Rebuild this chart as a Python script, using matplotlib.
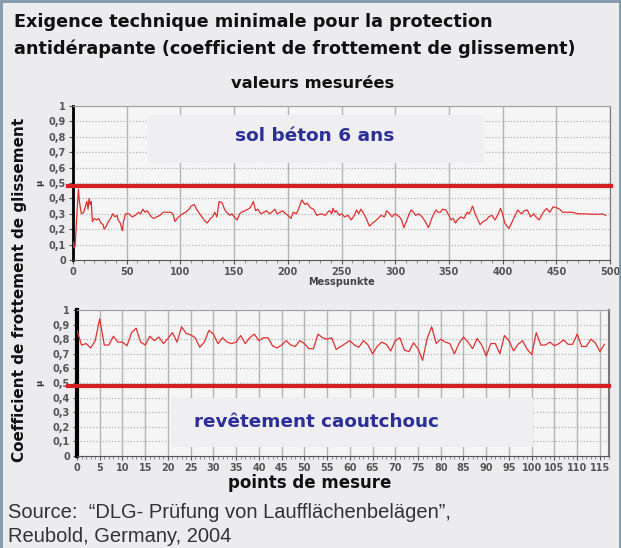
import matplotlib
matplotlib.use("Agg")
import matplotlib.pyplot as plt
from matplotlib.patches import Rectangle
from matplotlib.ticker import FuncFormatter, MultipleLocator

# sol béton 6 ans: friction coefficient vs. measuring point
beton_x = [0, 1, 2, 3, 5, 6, 7, 8, 10, 12, 13, 14, 15, 16, 17, 18, 20, 22, 24, 26,
           28, 29, 31, 33, 35, 37, 39, 41, 42, 44, 46, 47, 49, 52, 55, 58, 61, 63, 65, 67,
           69, 71, 73, 75, 78, 81, 84, 88, 91, 93, 95, 97, 100, 102, 105, 108, 110, 113, 115, 118,
           120, 122, 125, 128, 130, 132, 134, 136, 139, 141, 143, 146, 148, 150, 153, 155, 157, 160, 163, 165,
           168, 170, 172, 175, 178, 180, 183, 185, 188, 190, 193, 195, 198, 200, 203, 205, 208, 210, 213, 216,
           218, 221, 224, 227, 231, 235, 237, 239, 241, 242, 244, 245, 248, 250, 253, 256, 259, 262, 264, 266,
           268, 270, 273, 276, 279, 281, 284, 287, 290, 292, 295, 297, 300, 304, 306, 308, 311, 313, 315, 317,
           319, 322, 325, 328, 331, 334, 336, 338, 340, 342, 344, 347, 350, 352, 354, 356, 358, 361, 364, 367,
           369, 372, 375, 377, 379, 382, 385, 387, 390, 393, 396, 398, 400, 402, 404, 406, 409, 411, 414, 416,
           418, 420, 423, 426, 429, 431, 434, 437, 439, 441, 444, 447, 450, 453, 456, 460, 465, 470, 475, 480,
           485, 490, 493, 496]
beton_mu = [0.12, 0.08, 0.09, 0.22, 0.46, 0.38, 0.33, 0.30, 0.31, 0.36, 0.38, 0.33, 0.40, 0.36, 0.38, 0.25, 0.27, 0.26, 0.27, 0.24,
            0.23, 0.20, 0.22, 0.25, 0.27, 0.30, 0.28, 0.29, 0.26, 0.24, 0.19, 0.25, 0.30, 0.30, 0.28, 0.29, 0.31, 0.30, 0.33, 0.31,
            0.32, 0.30, 0.28, 0.27, 0.28, 0.29, 0.31, 0.31, 0.31, 0.30, 0.25, 0.27, 0.29, 0.30, 0.31, 0.33, 0.35, 0.36, 0.33, 0.30,
            0.28, 0.26, 0.24, 0.27, 0.28, 0.31, 0.28, 0.38, 0.37, 0.33, 0.31, 0.29, 0.30, 0.28, 0.26, 0.30, 0.31, 0.32, 0.33, 0.34,
            0.38, 0.32, 0.33, 0.30, 0.31, 0.32, 0.30, 0.31, 0.33, 0.30, 0.31, 0.32, 0.30, 0.29, 0.27, 0.31, 0.30, 0.33, 0.39, 0.36,
            0.37, 0.34, 0.33, 0.29, 0.30, 0.29, 0.31, 0.32, 0.30, 0.335, 0.31, 0.32, 0.29, 0.30, 0.28, 0.29, 0.26, 0.29, 0.325, 0.30,
            0.33, 0.31, 0.27, 0.22, 0.24, 0.25, 0.27, 0.29, 0.28, 0.32, 0.30, 0.28, 0.30, 0.28, 0.26, 0.21, 0.26, 0.30, 0.325, 0.31,
            0.29, 0.30, 0.28, 0.25, 0.21, 0.27, 0.30, 0.325, 0.31, 0.31, 0.33, 0.325, 0.29, 0.26, 0.27, 0.24, 0.26, 0.28, 0.27, 0.31,
            0.30, 0.35, 0.29, 0.26, 0.23, 0.25, 0.26, 0.28, 0.29, 0.26, 0.30, 0.335, 0.30, 0.24, 0.22, 0.205, 0.25, 0.28, 0.325, 0.31,
            0.30, 0.32, 0.325, 0.28, 0.30, 0.28, 0.26, 0.30, 0.32, 0.335, 0.31, 0.345, 0.34, 0.33, 0.31, 0.31, 0.31, 0.30, 0.30, 0.298,
            0.297, 0.297, 0.30, 0.29]

# revêtement caoutchouc
caout_x = list(range(0, 117))
caout_mu = [0.86, 0.76, 0.77, 0.74, 0.79, 0.94, 0.76, 0.76, 0.82, 0.78, 0.78, 0.755, 0.845, 0.875, 0.78, 0.76, 0.82, 0.79, 0.815, 0.77,
            0.805, 0.845, 0.78, 0.885, 0.84, 0.83, 0.81, 0.745, 0.78, 0.86, 0.835, 0.77, 0.81, 0.78, 0.77, 0.78, 0.825, 0.77, 0.81, 0.835,
            0.79, 0.81, 0.81, 0.755, 0.74, 0.76, 0.79, 0.76, 0.75, 0.79, 0.77, 0.735, 0.735, 0.835, 0.81, 0.80, 0.81, 0.73, 0.75, 0.77,
            0.79, 0.76, 0.745, 0.79, 0.76, 0.70, 0.75, 0.78, 0.765, 0.72, 0.79, 0.81, 0.725, 0.715, 0.775, 0.735, 0.655, 0.805, 0.885, 0.77,
            0.80, 0.78, 0.77, 0.70, 0.77, 0.815, 0.78, 0.735, 0.805, 0.76, 0.685, 0.77, 0.77, 0.70, 0.825, 0.79, 0.72, 0.765, 0.79, 0.73,
            0.695, 0.845, 0.76, 0.76, 0.78, 0.755, 0.77, 0.795, 0.765, 0.765, 0.835, 0.75, 0.75, 0.80, 0.775, 0.715, 0.765]

minimum_mu = 0.48
beton_ticks = [0, 50, 100, 150, 200, 250, 300, 350, 400, 450, 500]
caout_ticks = list(range(0, 116, 5))

BG = "#ececee"
RED = "#d42020"
BLUE = "#2b2f96"


def comma(v, pos):
    if abs(v - round(v)) < 1e-9:
        return "%d" % round(v)
    return ("%.1f" % v).replace(".", ",")


def style_axes(ax, xticks, xminor):
    ax.set_facecolor("#f5f5f5")
    ax.set_ylim(0, 1)
    ax.set_xticks(xticks)
    ax.xaxis.set_minor_locator(MultipleLocator(xminor))
    ax.yaxis.set_major_locator(MultipleLocator(0.1))
    ax.yaxis.set_major_formatter(FuncFormatter(comma))
    ax.grid(axis="x", which="major", color="#b4b4b4", lw=1.0, ls="-")
    ax.grid(axis="y", which="major", color="#b4b4b4", lw=0.9, ls=(0, (1, 1.5)))
    ax.set_axisbelow(True)
    ax.tick_params(labelsize=7, colors="#555555", length=3, width=0.8, pad=2)
    ax.tick_params(which="minor", length=2, width=0.6, colors="#777777")
    for lab in ax.get_xticklabels() + ax.get_yticklabels():
        lab.set_fontweight("bold")
    ax.spines["top"].set_color("#a0a0a0")
    ax.spines["right"].set_color("#777777")
    ax.spines["bottom"].set_color("#555555")
    ax.spines["left"].set_color("black")


fig = plt.figure(figsize=(6.21, 5.48), dpi=100, facecolor=BG)

# ---- top: concrete floor ----
ax1 = fig.add_axes([73 / 621, 1 - 260 / 548, 537 / 621, 154 / 548])
style_axes(ax1, beton_ticks, 10)
ax1.set_xlim(0, 500)
ax1.spines["left"].set_linewidth(2)
ax1.add_patch(Rectangle((0.139, 0.63), 0.627, 0.31, transform=ax1.transAxes,
                        facecolor="#efeff1", edgecolor="none", zorder=1.5))
ax1.text(0.45, 0.805, "sol béton 6 ans", transform=ax1.transAxes, ha="center", va="center",
         fontsize=13.3, fontweight="bold", color=BLUE, zorder=3)
ax1.plot(beton_x, beton_mu, color="#e03030", lw=0.9, zorder=4)
ax1.plot([-5, 501], [minimum_mu, minimum_mu], color=RED, lw=3, clip_on=False, zorder=5)
ax1.set_xlabel("Messpunkte", fontsize=7, fontweight="bold", color="#444444", labelpad=0)
ax1.text(-0.062, 0.5, "μ", transform=ax1.transAxes, fontsize=6, fontweight="bold",
         rotation=90, ha="center", va="center", color="#333333")

# ---- bottom: rubber covering ----
ax2 = fig.add_axes([77 / 621, 1 - 456 / 548, 532 / 621, 146 / 548])
style_axes(ax2, caout_ticks, 1)
ax2.set_xlim(0, 117)
ax2.spines["left"].set_linewidth(3)
ax2.spines["right"].set_linewidth(1.5)
ax2.add_patch(Rectangle((0.176, 0.06), 0.682, 0.34, transform=ax2.transAxes,
                        facecolor="#efeff1", edgecolor="none", zorder=1.5))
ax2.text(0.45, 0.233, "revêtement caoutchouc", transform=ax2.transAxes, ha="center", va="center",
         fontsize=13.2, fontweight="bold", color=BLUE, zorder=3)
ax2.plot(caout_x, caout_mu, color="#e03030", lw=0.9, zorder=4)
ax2.plot([-2, 117], [minimum_mu, minimum_mu], color=RED, lw=3, clip_on=False, zorder=5)
ax2.text(-0.07, 0.5, "μ", transform=ax2.transAxes, fontsize=6, fontweight="bold",
         rotation=90, ha="center", va="center", color="#333333")

# ---- figure texts ----
fig.text(14 / 621, 1 - 22 / 548, "Exigence technique minimale pour la protection",
         fontsize=12.7, fontweight="bold", va="center", ha="left", color="#111111")
fig.text(14 / 621, 1 - 49 / 548, "antidérapante (coefficient de frottement de glissement)",
         fontsize=12.7, fontweight="bold", va="center", ha="left", color="#111111")
fig.text(313 / 621, 1 - 83 / 548, "valeurs mesurées", fontsize=11.8, fontweight="bold",
         ha="center", va="center", color="#111111")
fig.text(310 / 621, 1 - 483 / 548, "points de mesure", fontsize=12, fontweight="bold",
         ha="center", va="center", color="#111111")
fig.text(20 / 621, 1 - 290 / 548, "Coefficient de frottement de glissement", fontsize=11,
         fontweight="bold", rotation=90, ha="center", va="center", color="#111111")
fig.text(8 / 621, 1 - 513 / 548, "Source:  “DLG- Prüfung von Laufflächenbelägen”,",
         fontsize=14.5, family="Liberation Sans", va="center", ha="left", color="#333333")
fig.text(8 / 621, 1 - 536 / 548, "Reubold, Germany, 2004",
         fontsize=14.5, family="Liberation Sans", va="center", ha="left", color="#333333")

fig.add_artist(Rectangle((0.002, -0.05), 0.996, 1.048, transform=fig.transFigure,
                         facecolor="none", edgecolor="#7f97a8", lw=2))

fig.savefig("out.png", dpi=100, facecolor=BG)
